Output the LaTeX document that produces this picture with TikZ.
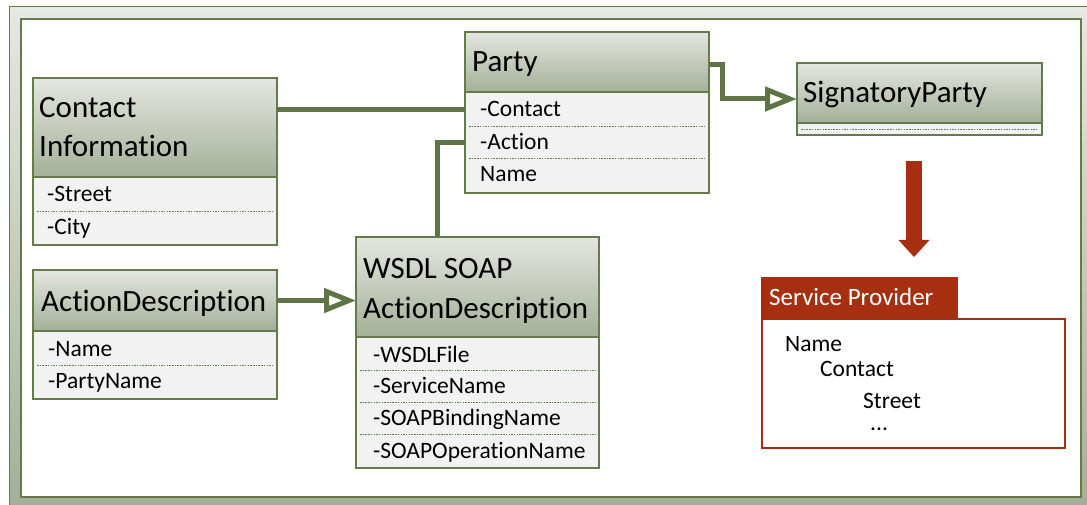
\documentclass[tikz,border=0pt]{standalone}
\usepackage{fontspec}
\setmainfont{Carlito}[Ligatures=NoCommon]
\usetikzlibrary{arrows.meta}

\definecolor{umlgreen}{HTML}{667B4B}
\definecolor{linkgreen}{HTML}{5F7444}
\definecolor{headtop}{HTML}{E4E6E1}
\definecolor{headbot}{HTML}{A4B097}
\definecolor{rowgray}{HTML}{F2F2F2}
\definecolor{framelight}{HTML}{E6E8E3}
\definecolor{framedark}{HTML}{A3AE96}
\definecolor{spred}{HTML}{A52F10}

\tikzset{
  head/.style={draw=umlgreen, line width=1.2pt, top color=headtop, bottom color=headbot, anchor=north west, inner sep=0pt, outer sep=0pt},
  attrs/.style={draw=umlgreen, line width=1.2pt, fill=rowgray, anchor=north west, inner sep=0pt, outer sep=0pt},
  sep/.style={draw=umlgreen, line width=0.9pt, dash pattern=on 1.5pt off 1.2pt},
  ttl/.style={anchor=base west, inner sep=0pt, font=\fontsize{31}{37}\selectfont},
  att/.style={anchor=base west, inner sep=0pt, font=\fontsize{23.5}{28}\selectfont},
  link/.style={draw=linkgreen, line width=5pt},
  inh/.style={link, -{Triangle[open, length=32pt, width=24pt]}},
}

\begin{document}
\begin{tikzpicture}[x=1pt, y=-1pt]
    \useasboundingbox (0,0) rectangle (1087,505);

    % frame
    \draw[umlgreen, line width=1pt, top color=framelight, bottom color=framedark] (9,7) rectangle (1095,513);
    \draw[umlgreen, line width=1.5pt, fill=white] (21,19) rectangle (1081,497);

    % Contact Information
    \node[head, minimum width=244pt, minimum height=99pt] (cih) at (33,78) {};
    \node[attrs, minimum width=244pt, minimum height=68pt] (cia) at (33,177) {};
    \draw[sep] (37,211) -- (273,211);
    \node[ttl] (cit1) at (39,118) {Contact};
    \node[ttl] (cit2) at (39,157) {Information};
    \node[att] (ci1) at (47,202) {-Street};
    \node[att] (ci2) at (47,234) {-City};

    % Party
    \node[head, minimum width=244pt, minimum height=60pt] (pah) at (465,32) {};
    \node[attrs, minimum width=244pt, minimum height=101pt] (paa) at (465,92) {};
    \draw[sep] (469,126) -- (705,126);
    \draw[sep] (469,158) -- (705,158);
    \node[ttl] (pat) at (472,72) {Party};
    \node[att] (pa1) at (480,117) {-Contact};
    \node[att] (pa2) at (480,150) {-Action};
    \node[att] (pa3) at (480,182) {Name};

    % SignatoryParty
    \node[head, minimum width=245pt, minimum height=60pt] (sgh) at (797,63) {};
    \node[attrs, minimum width=245pt, minimum height=12pt] (sga) at (797,123) {};
    \draw[sep] (801,129) -- (1038,129);
    \node[ttl] (sgt) at (803,103) {SignatoryParty};

    % ActionDescription
    \node[head, minimum width=244pt, minimum height=61pt] (adh) at (33,270) {};
    \node[attrs, minimum width=244pt, minimum height=68pt] (ada) at (33,331) {};
    \draw[sep] (37,365) -- (273,365);
    \node[ttl] (adt) at (41,311) {ActionDescription};
    \node[att] (ad1) at (48,356) {-Name};
    \node[att] (ad2) at (48,388) {-PartyName};

    % WSDL SOAP ActionDescription
    \node[head, minimum width=243pt, minimum height=100pt] (wsh) at (356,237) {};
    \node[attrs, minimum width=243pt, minimum height=131pt] (wsa) at (356,337) {};
    \draw[sep] (360,370) -- (595,370);
    \draw[sep] (360,402) -- (595,402);
    \draw[sep] (360,434) -- (595,434);
    \node[ttl] (wst1) at (363,278) {WSDL SOAP};
    \node[ttl] (wst2) at (363,318) {ActionDescription};
    \node[att] (ws1) at (373,362) {-WSDLFile};
    \node[att] (ws2) at (373,393) {-ServiceName};
    \node[att] (ws3) at (373,425) {-SOAPBindingName};
    \node[att] (ws4) at (373,458) {-SOAPOperationName};

    % Service Provider
    \node[draw=spred, line width=1.5pt, fill=white, anchor=north west, inner sep=0pt, minimum width=303pt, minimum height=129pt] (spb) at (761,318) {};
    \node[fill=spred, anchor=north west, inner sep=0pt, minimum width=197pt, minimum height=41pt] (spt) at (761,277) {};
    \node[anchor=base west, inner sep=0pt, text=white, font=\fontsize{25}{30}\selectfont] (sptt) at (769,305) {Service Provider};
    \node[att] (sp1) at (785,351) {Name};
    \node[att] (sp2) at (820,376) {Contact};
    \node[att] (sp3) at (863,408) {Street};
    \node[att] (sp4) at (870,430) {...};

    % connectors
    \draw[link] (cih.east |- pa1) -- (paa.west |- pa1);
    \draw[link] (paa.west |- pa2) -| ([xshift=-40pt]wsh.north);
    \draw[inh] ([yshift=-3pt]pah.east) -- ++(13,0) |- ([yshift=-6pt]sgh.west);
    \draw[inh] (adh.east) -- (adh.east -| wsh.west);

    \coordinate (redtop) at (914,161);
    \coordinate (redtip) at (914,257);
    \draw[spred, line width=16pt, -{Triangle[length=17pt, width=31pt, line width=0pt]}] (redtop) -- (redtip);
\end{tikzpicture}
\end{document}
